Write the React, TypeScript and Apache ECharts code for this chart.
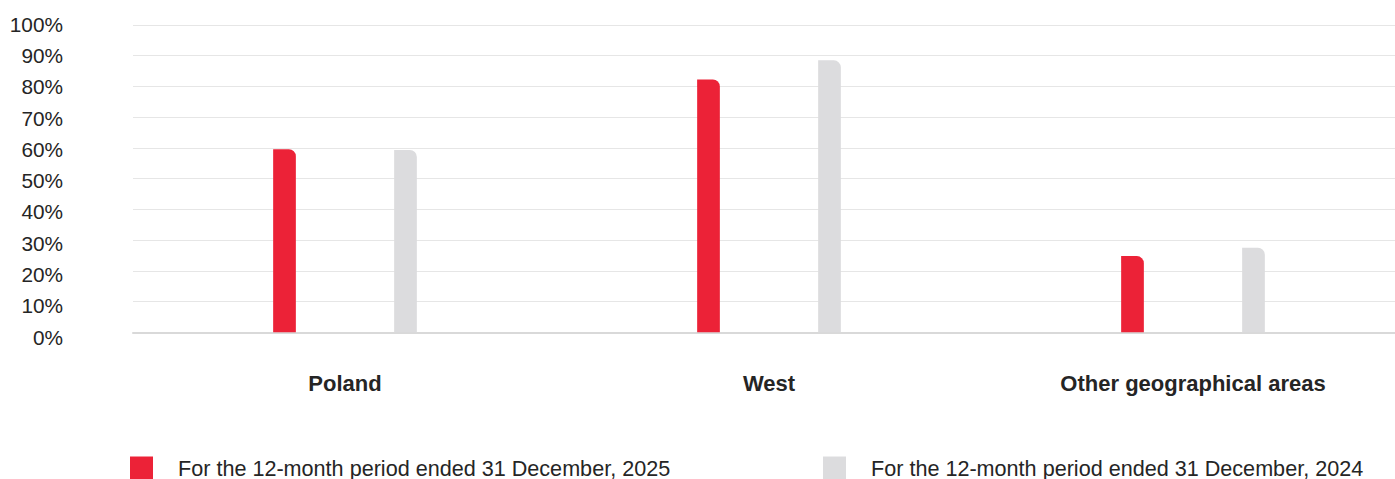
import React, { useEffect, useRef } from "react";
import * as echarts from "echarts";

const categories = ["Poland", "West", "Other geographical areas"];
const series2025Name = "For the 12-month period ended 31 December, 2025";
const series2024Name = "For the 12-month period ended 31 December, 2024";
const values2025 = [59.6, 82.3, 24.8];
const values2024 = [59.3, 88.5, 27.5];
const yTicks = { min: 0, max: 100, interval: 10 };

const FONT = "'Liberation Sans', Arial, Helvetica, sans-serif";
const RED = "#EC2237";
const GRAY = "#DCDCDE";
const TEXT = "#252525";

export default function App() {
  const ref = useRef<HTMLDivElement>(null);
  useEffect(() => {
    if (!ref.current) return;
    const chart = echarts.init(ref.current, undefined, { renderer: "svg" });
    const legendText = {
      fontFamily: FONT,
      fontSize: 21.6,
      color: TEXT,
      padding: [0, 0, 0, 20],
    };
    const legendBase = {
      top: 456.5,
      padding: 0,
      itemWidth: 23,
      itemHeight: 23,
      icon: "rect",
      textStyle: legendText,
      selectedMode: false,
    };
    chart.setOption({
      animation: false,
      grid: [
        { left: 133, right: 0, top: 25, bottom: 146.7, containLabel: false },
        { left: 133, right: 0, top: 24.2, bottom: 142, containLabel: false },
      ],
      legend: [
        { ...legendBase, data: [series2025Name], left: 130 },
        { ...legendBase, data: [series2024Name], left: 823 },
      ],
      xAxis: [
        {
          type: "category",
          gridIndex: 0,
          data: categories,
          axisLine: { show: true, lineStyle: { color: "#d9d9d9", width: 2 } },
          axisTick: { show: false },
          axisLabel: {
            margin: 40,
            fontFamily: FONT,
            fontSize: 22,
            fontWeight: "bold",
            color: TEXT,
          },
        },
        {
          type: "category",
          gridIndex: 1,
          data: categories,
          show: false,
        },
      ],
      yAxis: [
        {
          type: "value",
          gridIndex: 0,
          min: yTicks.min,
          max: yTicks.max,
          interval: yTicks.interval,
          axisLine: { show: false },
          axisTick: { show: false },
          splitLine: { lineStyle: { color: "#e6e6e6", width: 1 } },
          axisLabel: { show: false },
        },
        {
          type: "value",
          gridIndex: 1,
          min: yTicks.min,
          max: yTicks.max,
          interval: yTicks.interval,
          axisLine: { show: false },
          axisTick: { show: false },
          splitLine: { show: false },
          axisLabel: {
            margin: 70,
            fontFamily: FONT,
            fontSize: 20.8,
            color: TEXT,
            formatter: "{value}%",
          },
        },
      ],
      series: [
        {
          name: series2025Name,
          type: "bar",
          xAxisIndex: 0,
          yAxisIndex: 0,
          data: values2025,
          barWidth: 22.7,
          barGap: "433%",
          itemStyle: { color: RED, borderRadius: [0, 7, 0, 0] },
        },
        {
          name: series2024Name,
          type: "bar",
          xAxisIndex: 0,
          yAxisIndex: 0,
          data: values2024,
          barWidth: 22.7,
          itemStyle: { color: GRAY, borderRadius: [0, 7, 0, 0] },
        },
      ],
    });
    return () => chart.dispose();
  }, []);
  return (
    <div
      style={{
        position: "absolute",
        left: 0,
        top: 0,
        width: 1395,
        height: 479,
        overflow: "hidden",
        background: "#fff",
      }}
    >
      <div ref={ref} style={{ width: 1405, height: 479 }} />
    </div>
  );
}
